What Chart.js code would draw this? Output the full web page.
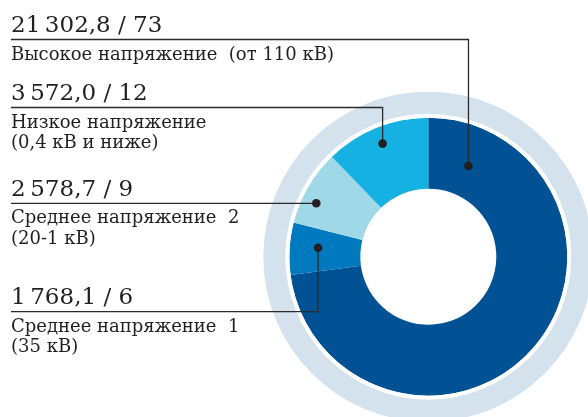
<!DOCTYPE html>
<html>
<head>
<meta charset="utf-8">
<script src="https://cdn.jsdelivr.net/npm/chart.js@4"></script>
<style>
  html, body { margin: 0; padding: 0; background: #fff; overflow: hidden; }
  #wrap { width: 600px; height: 430px; }
</style>
</head>
<body>
<div id="wrap"><canvas id="voltChart" width="600" height="430"></canvas></div>
<script>
// data, clockwise from 12 o'clock
const categories = ["high", "mid1", "mid2", "low"];
const values = [21302.8, 1768.1, 2578.7, 3572.0];
const shares = [73, 6, 9, 12];
const captions = [
  ["Высокое напряжение  (от 110 кВ)"],
  ["Среднее напряжение  1", "(35 кВ)"],
  ["Среднее напряжение  2", "(20-1 кВ)"],
  ["Низкое напряжение", "(0,4 кВ и ниже)"],
];
const colors = ["#005294", "#0079bf", "#9fd8e6", "#15b1e3"];

// callout layout: underline y, dot position inside the slice (angle / ring fraction)
const calloutLineY = [39.5, 311.7, 203.3, 107.5];
const dotAngleFrac = [0.091, 0.56, 0.355, 0.5];
const dotRingFrac = [0.44, 0.6, 0.79, 0.76];

const TEXT = "#231f20";

function fmt(v) {
  const parts = v.toFixed(1).split(".");
  const int = parts[0].replace(/\B(?=(\d{3})+(?!\d))/g, "\u2009");
  return int + "," + parts[1];
}

const callouts = {
  id: "callouts",
  afterDraw(chart) {
    const ctx = chart.ctx;
    const meta = chart.getDatasetMeta(2);
    ctx.save();
    meta.data.forEach((arc, i) => {
      const p = arc.getProps(["x", "y", "startAngle", "endAngle", "innerRadius", "outerRadius"], true);
      const a = p.startAngle + (p.endAngle - p.startAngle) * dotAngleFrac[i];
      const r = p.innerRadius + (p.outerRadius - p.innerRadius) * dotRingFrac[i];
      const dx = p.x + r * Math.cos(a);
      const dy = p.y + r * Math.sin(a);
      const ly = calloutLineY[i];

      ctx.strokeStyle = "#2a2a2a";
      ctx.lineWidth = 1.3;
      ctx.beginPath();
      ctx.moveTo(11, ly);
      ctx.lineTo(dx, ly);
      ctx.lineTo(dx, dy);
      ctx.stroke();

      ctx.fillStyle = TEXT;
      ctx.beginPath();
      ctx.arc(dx, dy, 4.3, 0, Math.PI * 2);
      ctx.fill();

      ctx.textAlign = "left";
      ctx.textBaseline = "alphabetic";
      ctx.font = "23px 'DejaVu Serif'";
      ctx.fillText(fmt(values[i]) + " / " + shares[i], 11, ly - 7.3);
      ctx.font = "18px 'DejaVu Serif'";
      captions[i].forEach((line, k) => {
        ctx.fillText(line, 11, ly + 20 + k * 20.5);
      });
    });
    ctx.restore();
  },
};

new Chart(document.getElementById("voltChart"), {
  type: "doughnut",
  data: {
    labels: categories,
    datasets: [
      { data: [1], backgroundColor: ["#d4e2ee"], borderWidth: 0, weight: 22 },
      { data: [1], backgroundColor: ["#ffffff"], borderWidth: 0, weight: 4 },
      { data: values, backgroundColor: colors, borderWidth: 0, weight: 71 },
    ],
  },
  options: {
    responsive: false,
    animation: false,
    cutout: 68,
    layout: { padding: { left: 263.3, top: 91.7, right: 6.7, bottom: 8.3 } },
    plugins: {
      legend: { display: false },
      tooltip: { enabled: false },
    },
  },
  plugins: [callouts],
});
</script>
</body>
</html>
